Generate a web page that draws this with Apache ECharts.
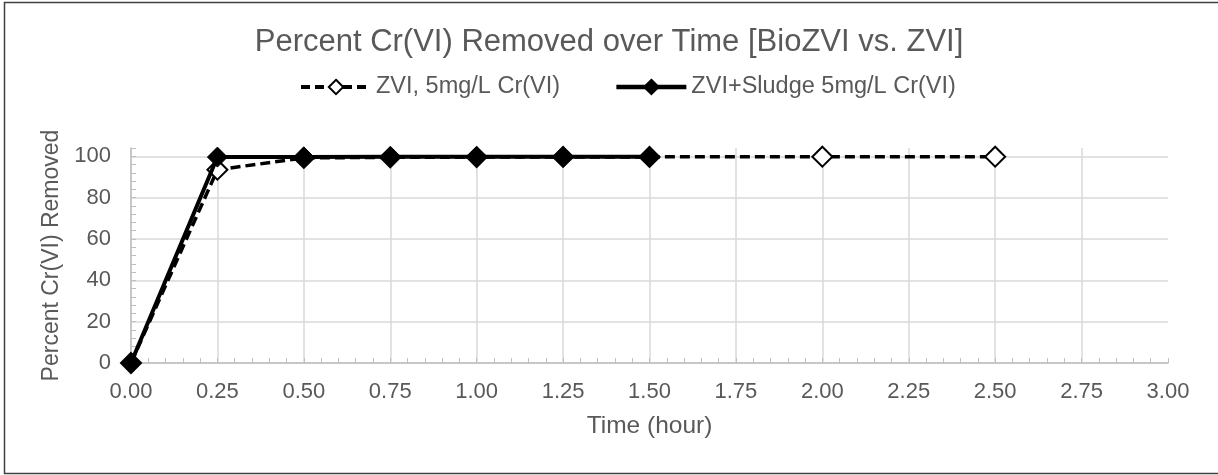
<!DOCTYPE html>
<html>
<head>
<meta charset="utf-8">
<title>Percent Cr(VI) Removed over Time</title>
<script src="https://cdn.jsdelivr.net/npm/echarts@6/dist/echarts.min.js"></script>
<style>
  html, body { margin: 0; padding: 0; background: #fff; }
  #chart { width: 1218px; height: 475px; }
</style>
</head>
<body>
<div id="chart"></div>
<script>
// Sampling times (hours) and percent Cr(VI) removed for each treatment
const zviTimes = [0, 0.25, 0.5, 0.75, 1.0, 1.25, 1.5, 2.0, 2.5];
const zviRemoved = [0, 93.5, 99.2, 99.5, 99.6, 99.7, 99.7, 99.8, 99.8];
const sludgeTimes = [0, 0.25, 0.5, 0.75, 1.0, 1.25, 1.5];
const sludgeRemoved = [0, 99.6, 99.7, 99.8, 99.8, 99.8, 99.8];

const seriesNames = ['ZVI, 5mg/L Cr(VI)', 'ZVI+Sludge 5mg/L Cr(VI)'];
const chartTitle = 'Percent Cr(VI) Removed over Time [BioZVI vs. ZVI]';
const xAxisTitle = 'Time (hour)';
const yAxisTitle = 'Percent Cr(VI) Removed';

const FONT = '"Liberation Sans", Arial, sans-serif';
const TEXT = '#595959';
const AXIS = '#bfbfbf';
const GRID = '#d9d9d9';

const pairs = (xs, ys) => xs.map((x, i) => [x, ys[i]]);

const chart = echarts.init(document.getElementById('chart'), null, { renderer: 'canvas' });

chart.setOption({
  backgroundColor: '#ffffff',
  animation: false,
  textStyle: { fontFamily: FONT, color: TEXT },
  title: {
    text: chartTitle,
    left: 'center',
    top: 22,
    textStyle: { fontFamily: FONT, fontSize: 31, fontWeight: 'normal', color: TEXT }
  },
  legend: {
    top: 70,
    left: 294,
    itemWidth: 70,
    itemHeight: 18,
    itemGap: 54,
    textStyle: { fontFamily: FONT, fontSize: 23.5, color: TEXT },
    data: [
      { name: seriesNames[0], lineStyle: { width: 4, type: [9, 5] } },
      { name: seriesNames[1], lineStyle: { width: 4.5 } }
    ]
  },
  graphic: [{
    type: 'rect',
    silent: true,
    shape: { x: 4.5, y: 2.5, width: 1300, height: 471 },
    style: { fill: 'none', stroke: '#404040', lineWidth: 1.5 }
  }],
  grid: { left: 131, right: 50, top: 148, bottom: 112 },
  xAxis: {
    type: 'value',
    min: 0,
    max: 3,
    interval: 0.05,
    name: xAxisTitle,
    nameLocation: 'middle',
    nameGap: 51,
    nameTextStyle: { fontFamily: FONT, fontSize: 24.5, color: TEXT },
    axisLine: { show: true, lineStyle: { color: AXIS, width: 1.5 } },
    axisTick: { show: true, inside: true, length: 5, lineStyle: { color: AXIS } },
    axisLabel: {
      fontFamily: FONT, fontSize: 22, color: TEXT, margin: 18,
      formatter: v => (Math.round(v * 100) % 25 === 0 ? v.toFixed(2) : '')
    },
    splitLine: {
      show: true,
      showMaxLine: false,
      lineStyle: { color: [GRID, 'transparent', 'transparent', 'transparent', 'transparent'], width: 1.5 }
    }
  },
  yAxis: {
    type: 'value',
    min: 0,
    max: 104,
    interval: 4,
    name: yAxisTitle,
    nameLocation: 'middle',
    nameGap: 63,
    nameTextStyle: { fontFamily: FONT, fontSize: 23, color: TEXT },
    axisLine: { show: true, lineStyle: { color: AXIS, width: 1.5 } },
    axisTick: { show: true, inside: true, length: 5, lineStyle: { color: AXIS } },
    axisLabel: {
      fontFamily: FONT, fontSize: 22, color: TEXT, margin: 20,
      formatter: v => (Math.round(v) % 20 === 0 ? String(Math.round(v)) : '')
    },
    splitLine: {
      show: true,
      lineStyle: { color: [GRID, 'transparent', 'transparent', 'transparent', 'transparent'], width: 1.5 }
    }
  },
  series: [
    {
      name: seriesNames[0],
      type: 'line',
      data: pairs(zviTimes, zviRemoved),
      symbol: 'diamond',
      symbolSize: 20,
      showAllSymbol: true,
      z: 2,
      itemStyle: { color: '#ffffff', borderColor: '#000000', borderWidth: 2 },
      lineStyle: { color: '#000000', width: 3.5, type: [10, 5] }
    },
    {
      name: seriesNames[1],
      type: 'line',
      data: pairs(sludgeTimes, sludgeRemoved),
      symbol: 'diamond',
      symbolSize: 20,
      showAllSymbol: true,
      z: 3,
      itemStyle: { color: '#000000', borderColor: '#000000', borderWidth: 1 },
      lineStyle: { color: '#000000', width: 4 }
    }
  ]
});
</script>
</body>
</html>
